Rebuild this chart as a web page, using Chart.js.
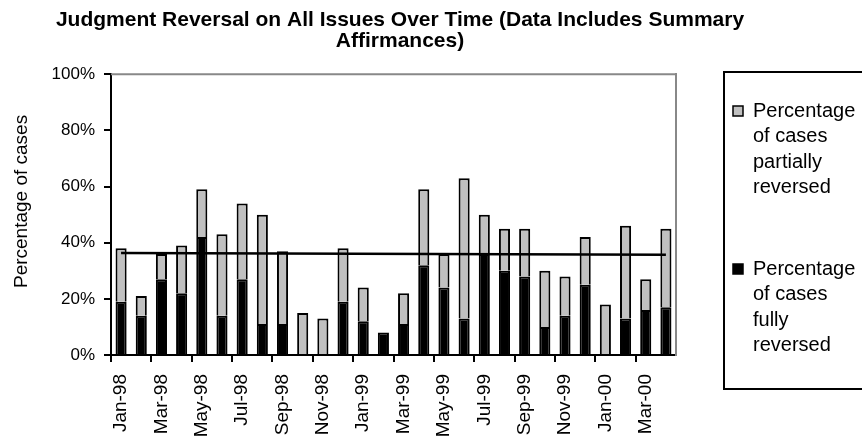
<!DOCTYPE html>
<html>
<head>
<meta charset="utf-8">
<script src="https://cdn.jsdelivr.net/npm/chart.js@4.4.0/dist/chart.umd.min.js"></script>
<style>
  html, body { margin: 0; padding: 0; background: #fff; }
</style>
</head>
<body>
<canvas id="chart" width="862" height="441"></canvas>
<script>
// Dati
const months = ['Jan-98', 'Feb-98', 'Mar-98', 'Apr-98', 'May-98', 'Jun-98', 'Jul-98', 'Aug-98', 'Sep-98', 'Oct-98', 'Nov-98', 'Dec-98',
                'Jan-99', 'Feb-99', 'Mar-99', 'Apr-99', 'May-99', 'Jun-99', 'Jul-99', 'Aug-99', 'Sep-99', 'Oct-99', 'Nov-99', 'Dec-99',
                'Jan-00', 'Feb-00', 'Mar-00', 'Apr-00'];
const fullyReversed =     [19, 14, 27, 22, 42, 14, 27, 11, 11, 0, 0, 19, 12, 8, 11, 32, 24, 13, 36, 30, 28, 10, 14, 25, 0, 13, 16, 17];
const partiallyReversed = [19, 7, 9, 17, 17, 29, 27, 39, 26, 15, 13, 19, 12, 0, 11, 27, 12, 50, 14, 15, 17, 20, 14, 17, 18, 33, 11, 28];
// Linea di tendenza: valori agli estremi
const trendFirst = 36.3;
const trendLast = 35.7;
const yTicks = [0, 20, 40, 60, 80, 100];
const seriesNames = ['Percentage of cases fully reversed', 'Percentage of cases partially reversed'];

const FONT = '"Liberation Sans", Arial, Helvetica, sans-serif';
Chart.defaults.font.family = FONT;
Chart.defaults.color = '#000';

const trendData = months.map((m, i) => i === 0 ? trendFirst : (i === months.length - 1 ? trendLast : null));

// Bordo grigio in alto dell'area del grafico
const topBorder = {
    id: 'topBorder',
    beforeDatasetsDraw(chart) {
        const { ctx, chartArea } = chart;
        ctx.save();
        ctx.strokeStyle = '#888';
        ctx.lineWidth = 2;
        ctx.beginPath();
        ctx.moveTo(chartArea.left, chartArea.top);
        ctx.lineTo(chartArea.right, chartArea.top);
        ctx.stroke();
        ctx.restore();
    }
};

// Legenda con riquadro e testo a capo
const boxLegend = {
    id: 'boxLegend',
    afterDraw(chart) {
        const ctx = chart.ctx;
        ctx.save();
        ctx.strokeStyle = '#000';
        ctx.lineWidth = 2;
        ctx.strokeRect(724, 72, 200, 317);
        ctx.font = '20px ' + FONT;
        ctx.textBaseline = 'middle';
        const items = [chart.data.datasets[2], chart.data.datasets[1]];
        const firstLine = [111, 269];
        items.forEach((ds, k) => {
            // riquadro colore
            ctx.fillStyle = ds.backgroundColor;
            ctx.fillRect(733, firstLine[k] - 5, 10, 10);
            ctx.lineWidth = 1.5;
            ctx.strokeRect(733, firstLine[k] - 5, 10, 10);
            // testo a capo
            const words = ds.label.split(' ');
            const lines = [];
            let cur = '';
            words.forEach(w => {
                const test = cur ? cur + ' ' + w : w;
                if (cur && ctx.measureText(test).width > 100) {
                    lines.push(cur);
                    cur = w;
                } else {
                    cur = test;
                }
            });
            lines.push(cur);
            ctx.fillStyle = '#000';
            lines.forEach((l, j) => ctx.fillText(l, 753, firstLine[k] + j * 25.5));
        });
        ctx.restore();
    }
};

new Chart(document.getElementById('chart'), {
    type: 'bar',
    data: {
        labels: months,
        datasets: [{
            type: 'line',
            label: 'Trend',
            data: trendData,
            spanGaps: true,
            borderColor: '#000',
            borderWidth: 2.5,
            pointRadius: 0,
            stack: 'trend'
        }, {
            label: seriesNames[0],
            data: fullyReversed,
            backgroundColor: '#000',
            borderColor: '#000',
            borderWidth: 2,
            barPercentage: 0.55,
            categoryPercentage: 1,
            stack: 'cases'
        }, {
            label: seriesNames[1],
            data: partiallyReversed,
            backgroundColor: '#c0c0c0',
            borderColor: '#000',
            borderWidth: 2,
            barPercentage: 0.55,
            categoryPercentage: 1,
            stack: 'cases'
        }]
    },
    options: {
        responsive: false,
        animation: false,
        layout: { padding: { left: 0, right: 62, top: 0, bottom: 0 } },
        plugins: {
            legend: { display: false },
            tooltip: { enabled: false },
            title: {
                display: true,
                text: ['Judgment Reversal on All Issues Over Time (Data Includes Summary', 'Affirmances)'],
                font: { size: 21, weight: 'bold', lineHeight: 1.03 },
                color: '#000',
                padding: { top: 9, bottom: 22 }
            }
        },
        scales: {
            x: {
                stacked: true,
                grid: {
                    offset: true,
                    drawOnChartArea: false,
                    tickLength: 7,
                    lineWidth: 2,
                    color: ctx => ctx.index % 2 === 0 ? '#000' : 'rgba(0,0,0,0)'
                },
                border: { color: '#000', width: 2 },
                ticks: {
                    autoSkip: false,
                    minRotation: 90,
                    maxRotation: 90,
                    padding: 12,
                    font: { size: 19 },
                    callback: (v, i) => i % 2 === 0 ? months[i] : ''
                },
                afterFit: s => { s.height = 86; }
            },
            y: {
                stacked: true,
                min: yTicks[0],
                max: yTicks[yTicks.length - 1],
                afterBuildTicks: s => { s.ticks = yTicks.map(v => ({ value: v })); },
                grid: { drawOnChartArea: false, tickLength: 7, lineWidth: 2, color: '#000' },
                border: { color: '#000', width: 2 },
                ticks: {
                    padding: 9,
                    font: { size: 17 },
                    callback: v => v + '%'
                },
                title: {
                    display: true,
                    // spazi iniziali per spostare il titolo verso l'alto come nell'originale
                    text: '     Percentage of cases',
                    font: { size: 19 },
                    padding: { top: 10, bottom: 0 }
                },
                afterFit: s => { s.width = 111; }
            },
            yR: {
                position: 'right',
                min: 0,
                max: 100,
                grid: { display: false },
                ticks: { display: false },
                border: { display: true, color: '#888', width: 2 },
                afterFit: s => { s.width = 124; }
            }
        }
    },
    plugins: [topBorder, boxLegend]
});
</script>
</body>
</html>
